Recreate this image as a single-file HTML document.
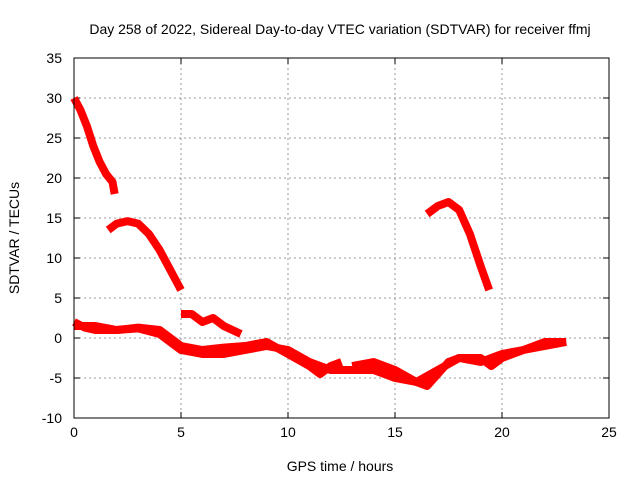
<!DOCTYPE html>
<html><head><meta charset="utf-8"><style>
body{margin:0;background:#fff}
svg{display:block;font-family:"Liberation Sans",sans-serif;font-size:14px}
</style></head><body>
<svg id="chart" width="640" height="480">
<text x="340" y="34" text-anchor="middle">Day 258 of 2022, Sidereal Day-to-day VTEC variation (SDTVAR) for receiver ffmj</text>
<text x="340" y="471" text-anchor="middle">GPS time / hours</text>
<text transform="translate(19,238) rotate(-90)" text-anchor="middle">SDTVAR / TECUs</text>
<g id="grid"></g><g id="ticks"></g><g id="series"></g>
<rect x="74" y="58" width="535" height="360" fill="none" stroke="#000"/>
</svg>
<script>
const xTicks=[0,5,10,15,20,25];
const yTicks=[-10,-5,0,5,10,15,20,25,30,35];
const s1x=[0,0.3,0.6,0.9,1.2,1.5,1.8,1.9], s1y=[30,28.5,26.5,24,22,20.5,19.5,18];
const s2x=[1.6,2,2.5,3,3.5,4,4.5,5], s2y=[13.5,14.3,14.6,14.3,13,11,8.5,6];
const s3x=[0,0.5,1,2,3,4,4.5,5,6,7,8,9,10,11,12,13,14,15,16,17,18,19,20,21,22,23];
const s3y=[2,1.3,1,1,1.2,0.5,-0.5,-1.5,-2,-2,-1.5,-1,-1.5,-3,-4,-4,-4,-5,-5.5,-4,-2.5,-3,-2,-1.5,-1,-0.5];
const s4x=[0,1,2,3,4,4.5,5,6,7,8,9,10,11,11.5,12,12.5];
const s4y=[1.5,1.5,1,1.3,1,0,-1,-1.5,-1.2,-1,-0.5,-2,-3.5,-4.5,-3.5,-3];
const s5x=[5,5.5,6,6.5,7,7.8], s5y=[3,3,2,2.5,1.5,0.5];
const s6x=[13,14,15,16,16.5,17,17.5,18,19,19.5,20,21,22,23];
const s6y=[-3.5,-3,-4,-5.5,-6,-4.5,-3,-2.5,-2.5,-3.5,-2.5,-1.5,-0.5,-0.5];
const s7x=[16.5,17,17.5,18,18.5,19,19.4], s7y=[15.5,16.5,17,16,13,9,6];
const X=v=>74+v*535/25, Y=v=>418-(v+10)*8;
const NS="http://www.w3.org/2000/svg";
const grid=document.getElementById('grid'), ticks=document.getElementById('ticks'), ser=document.getElementById('series');
function mk(t,a,p){const e=document.createElementNS(NS,t);for(const k in a)e.setAttribute(k,a[k]);p.appendChild(e);return e;}
xTicks.forEach(v=>{
 const g=mk('line',{x1:X(v),x2:X(v),y1:58,y2:418,stroke:'#999','stroke-dasharray':'2,3'},grid);
 
 
 const t=mk('text',{x:X(v),y:437,'text-anchor':'middle'},ticks);t.textContent=v;
 
 
 mk('line',{x1:X(v),x2:X(v),y1:418,y2:412,stroke:'#000'},ticks);
 mk('line',{x1:X(v),x2:X(v),y1:58,y2:64,stroke:'#000'},ticks);
});
yTicks.forEach(v=>{
 const g=mk('line',{x1:74,x2:609,y1:Y(v),y2:Y(v),stroke:'#999','stroke-dasharray':'2,3'},grid);
 
 
 const t=mk('text',{x:62,y:Y(v)+5,'text-anchor':'end'},ticks);t.textContent=v;
 
 
 mk('line',{x1:74,x2:80,y1:Y(v),y2:Y(v),stroke:'#000'},ticks);
 mk('line',{x1:609,x2:603,y1:Y(v),y2:Y(v),stroke:'#000'},ticks);
});
[[s1x,s1y],[s2x,s2y],[s3x,s3y],[s4x,s4y],[s5x,s5y],[s6x,s6y],[s7x,s7y]].forEach((s,i)=>{
 const pts=s[0].map((x,j)=>X(x)+','+Y(s[1][j])).join(' ');
 const p=mk('polyline',{points:pts,fill:'none',stroke:'#f00','stroke-width':8,'stroke-linejoin':'round'},ser);
 
 
});
</script>
</body></html>
